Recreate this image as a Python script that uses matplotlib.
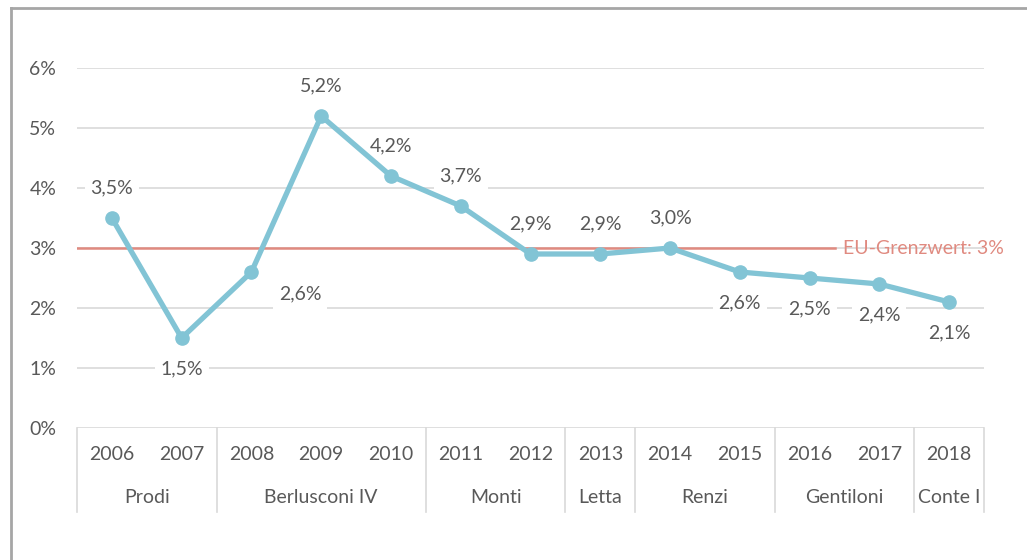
import matplotlib.pyplot as plt
from matplotlib.lines import Line2D
import matplotlib.transforms as mtransforms

plt.rcParams['font.family'] = ['Lato', 'DejaVu Sans']

# Data
years = ['2006', '2007', '2008', '2009', '2010', '2011', '2012',
         '2013', '2014', '2015', '2016', '2017', '2018']
deficit = [3.5, 1.5, 2.6, 5.2, 4.2, 3.7, 2.9, 2.9, 3.0, 2.6, 2.5, 2.4, 2.1]
governments = ['Prodi', 'Berlusconi IV', 'Monti', 'Letta', 'Renzi', 'Gentiloni', 'Conte I']
gov_years = [2, 3, 2, 1, 2, 2, 1]
eu_limit = 3.0
eu_label = 'EU-Grenzwert: 3%'

# label placement per point (a: above, b: below, r: below right)
placement = ['a', 'b', 'r', 'a', 'a', 'a', 'a', 'a', 'a', 'b', 'b', 'b', 'b']

text_col = '#595959'
grid_col = '#d9d9d9'
line_col = '#82c4d5'
red_col = '#e08a80'
fs = 14

fig = plt.figure(figsize=(10.27, 5.6), dpi=100)
ax = fig.add_axes([77 / 1027, 1 - 428 / 560, (984 - 77) / 1027, 360 / 560])

x = list(range(len(years)))

for v in range(0, 7):
    ax.axhline(v, color=grid_col, lw=1.2, zorder=0)

# EU limit line
ax.plot([-0.5, 10.37], [eu_limit, eu_limit], color=red_col, lw=1.8, zorder=1)
ax.text(10.48, eu_limit, eu_label, color=red_col, fontsize=fs, va='center', ha='left')

ax.plot(x, deficit, color=line_col, lw=3.8, marker='o', ms=9.5, zorder=3,
        solid_capstyle='round', solid_joinstyle='round')

offsets = {'a': (0, 21.5), 'b': (0, -22.5), 'r': (35, -16)}
for xi, val, p in zip(x, deficit, placement):
    ax.annotate(f'{val:.1f}%'.replace('.', ','), (xi, val), xytext=offsets[p],
                textcoords='offset points', ha='center', va='center',
                fontsize=fs, color=text_col, zorder=2,
                bbox=dict(boxstyle='square,pad=0.3', fc='white', ec='none'))

ax.set_xlim(-0.5, len(years) - 0.5)
ax.set_ylim(0, 6)
ax.set_yticks(range(0, 7))
ax.set_yticklabels([f'{v}%' for v in range(0, 7)])
ax.tick_params(axis='y', length=0, pad=15, labelsize=fs, labelcolor=text_col)
ax.set_xticks([])
for s in ax.spines.values():
    s.set_visible(False)

# two-level category axis
trans = mtransforms.blended_transform_factory(ax.transData, ax.transAxes)
for xi, yr in zip(x, years):
    ax.text(xi, -0.075, yr, transform=trans, ha='center', va='center',
            fontsize=fs, color=text_col)

bounds = [-0.5]
for n in gov_years:
    bounds.append(bounds[-1] + n)
for b in bounds:
    ax.add_line(Line2D([b, b], [0, -0.233], transform=trans, color=grid_col,
                       lw=1.2, clip_on=False))
for name, lo, hi in zip(governments, bounds[:-1], bounds[1:]):
    ax.text((lo + hi) / 2, -0.194, name, transform=trans, ha='center', va='center',
            fontsize=fs, color=text_col)

# chart frame (left and top visible)
fig.add_artist(Line2D([11 / 1027, 11 / 1027], [0, 1 - 8 / 560], transform=fig.transFigure,
                      color='#a6a6a6', lw=2))
fig.add_artist(Line2D([11 / 1027, 1], [1 - 8 / 560, 1 - 8 / 560], transform=fig.transFigure,
                      color='#a6a6a6', lw=2))

fig.savefig('out.png', dpi=100)
